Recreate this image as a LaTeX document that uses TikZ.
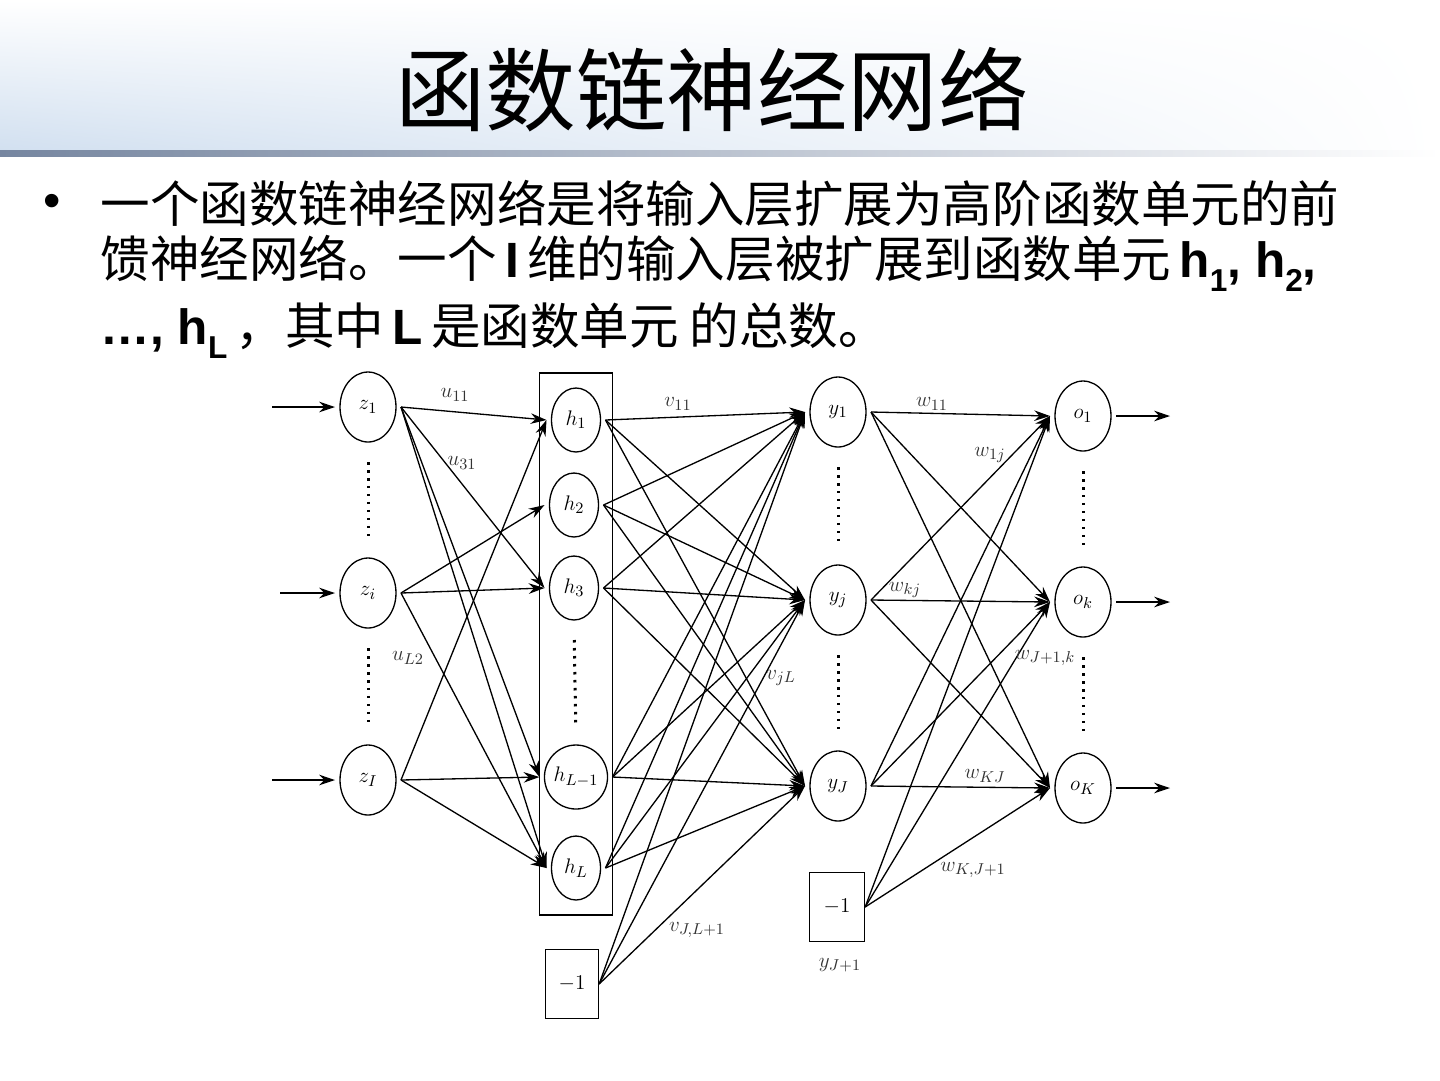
\documentclass[tikz,border=0pt]{standalone}
\usepackage{fontspec}
\usepackage{amsmath,amssymb}
\usepackage{xcolor}
\usepackage{tikz}
\usetikzlibrary{shapes.geometric,arrows.meta,fit,shadings}
\newfontfamily\cjk{Noto Sans CJK SC}
\newfontfamily\latin{Liberation Sans}
\newcommand\lowsub[1]{\raisebox{-0.3em}{\fontsize{18}{18}\selectfont #1}}
\definecolor{headblue}{RGB}{210,224,240}
\definecolor{headline}{RGB}{118,134,160}

\begin{document}
\begin{tikzpicture}[
  x=0.02cm, y=-0.02cm,
  line width=0.75pt,
  unitnode/.style={ellipse, draw=black, minimum width=1.12cm, minimum height=1.4cm, inner sep=0pt, outer sep=0.1cm, font=\fontsize{12.5}{14}\selectfont},
  hnode/.style={unitnode, minimum width=0.98cm, minimum height=1.28cm},
  biasnode/.style={rectangle, draw=black, minimum width=1.06cm, minimum height=1.37cm, inner sep=0pt, font=\fontsize{12.5}{14}\selectfont},
  wlabel/.style={font=\fontsize{12.5}{14}\selectfont, text=black!80, inner sep=1pt},
  bodytext/.style={anchor=base west, inner sep=0pt, font=\fontsize{28.2}{34}\selectfont},
  vdots/.style={line width=0.06cm, dash pattern=on 0.05cm off 0.11cm, shorten <=0.3cm, shorten >=0.3cm},
  >={Stealth[length=9pt,width=6pt]}
]
  \useasboundingbox (0,0) rectangle (1440,1080);
  \shade[upper left=white, lower left=headblue, upper right=white, lower right=white] (0,0) rectangle (1440,150);
  \shade[left color=headline, right color=white] (0,150) rectangle (1440,156);

  \node[font=\cjk\fontsize{51.5}{60}\selectfont] (title) at (712,90) {函数链神经网络};
  \node[anchor=base, inner sep=0pt, font=\latin\fontsize{28.2}{34}\selectfont] (bullet) at (52,217) {•};
  \node[bodytext] (line1) at (100,222) {\cjk 一个函数链神经网络是将输入层扩展为高阶函数单元的前};
  \node[bodytext] (line2) at (100,277) {{\cjk 馈神经网络。一个}\,{\latin\bfseries I}\,{\cjk 维的输入层被扩展到函数单元}\,{\latin\bfseries h\lowsub{1}, h\lowsub{2},}};
  \node[bodytext] (line3) at (100,344) {{\latin\bfseries …, h\lowsub{L}}\,{\cjk ，其中}\,{\latin\bfseries L}\,{\cjk 是函数单元\ 的总数。}};

  \node[unitnode] (z1) at (368,407) {$z_1$};
  \node[unitnode] (zi) at (368,593) {$z_i$};
  \node[unitnode] (zI) at (368,780) {$z_I$};

  \node[hnode] (h1) at (576,420) {$h_1$};
  \node[hnode] (h2) at (574,505) {$h_2$};
  \node[hnode] (h3) at (574,588) {$h_3$};
  \node[hnode] (hLm) at (576,777) {$h_{L-1}$};
  \node[hnode] (hL) at (576,868) {$h_L$};
  \node[draw, fit=(h1)(hL), inner xsep=0.14cm, inner ysep=0.2cm] (hbox) {};
  \node[biasnode] (hb) at (572,984) {$-1$};

  \node[unitnode] (y1) at (838,412) {$y_1$};
  \node[unitnode] (yj) at (838,600) {$y_j$};
  \node[unitnode] (yJ) at (838,786) {$y_J$};
  \node[biasnode, minimum width=1.1cm, minimum height=1.38cm] (yb) at (837,907) {$-1$};

  \node[unitnode] (o1) at (1083,416) {$o_1$};
  \node[unitnode] (ok) at (1083,602) {$o_k$};
  \node[unitnode] (oK) at (1083,788) {$o_K$};

  \coordinate (in1) at (272,407);
  \coordinate (ini) at (280,593);
  \coordinate (inI) at (272,780);
  \coordinate (out1) at (1170,416);
  \coordinate (outk) at (1170,602);
  \coordinate (outK) at (1170,788);

  \foreach \n in {1,i,I}
    \draw[->] (in\n) -- (z\n);
  \foreach \n in {1,k,K}
    \draw[->] (o\n) -- (out\n);

  \foreach \a/\b in {z1/h1, z1/h3, z1/hLm, z1/hL, zi/h2, zi/h3, zi/hL, zI/h1, zI/hLm, zI/hL}
    \draw[->] (\a.east) -- (\b.west);
  \foreach \a in {h1,h2,h3,hLm,hL,hb}
    \foreach \b in {y1,yj,yJ}
      \draw[->] (\a.east) -- (\b.west);
  \foreach \a in {y1,yj,yJ,yb}
    \foreach \b in {o1,ok,oK}
      \draw[->] (\a.east) -- (\b.west);

  \draw[vdots] (z1.south) -- (zi.north);
  \draw[vdots] (zi.south) -- (zI.north);
  \draw[vdots] (h3.south) -- (hLm.north);
  \draw[vdots] (y1.south) -- (yj.north);
  \draw[vdots] (yj.south) -- (yJ.north);
  \draw[vdots] (o1.south) -- (ok.north);
  \draw[vdots] (ok.south) -- (oK.north);

  \node[wlabel] (lu11) at (455,395) {$u_{11}$};
  \node[wlabel] (lu31) at (462,463) {$u_{31}$};
  \node[wlabel] (luL2) at (408,658) {$u_{L2}$};
  \node[wlabel] (lv11) at (678,404) {$v_{11}$};
  \node[wlabel] (lvjL) at (781,678) {$v_{jL}$};
  \node[wlabel] (lvJL) at (697,930) {$v_{J,L+1}$};
  \node[wlabel] (lw11) at (932,404) {$w_{11}$};
  \node[wlabel] (lw1j) at (990,455) {$w_{1j}$};
  \node[wlabel] (lwkj) at (905,590) {$w_{kj}$};
  \node[wlabel] (lwJk) at (1045,658) {$w_{J+1,k}$};
  \node[wlabel] (lwKJ) at (985,776) {$w_{KJ}$};
  \node[wlabel] (lwKJb) at (973,870) {$w_{K,J+1}$};
  \node[wlabel] (lyJb) at (840,965) {$y_{J+1}$};
\end{tikzpicture}
\end{document}
